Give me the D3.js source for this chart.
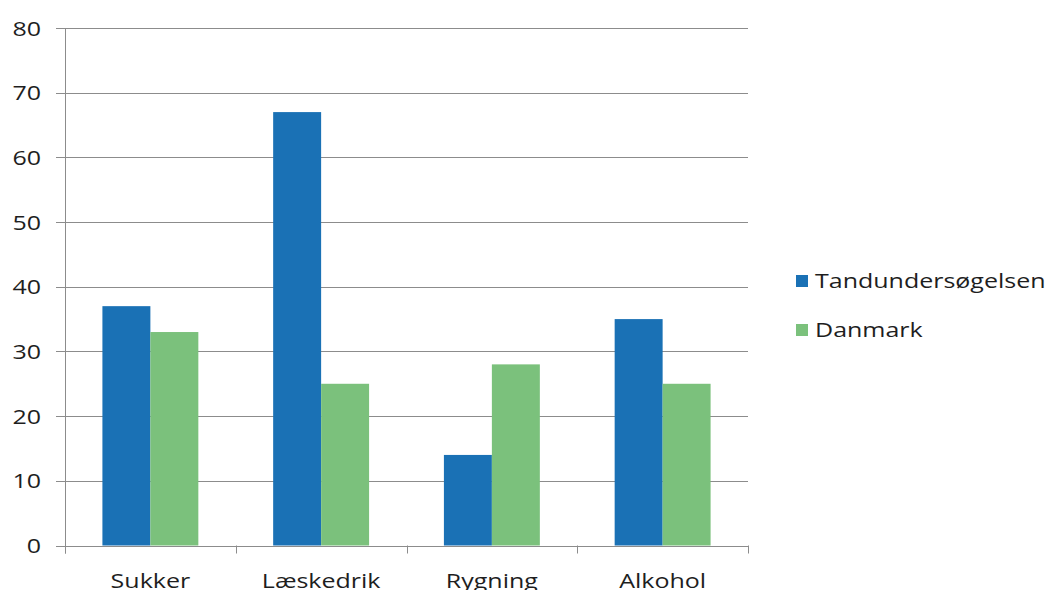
<!DOCTYPE html>
<html>
<head>
<meta charset="utf-8">
<script src="https://cdn.jsdelivr.net/npm/d3@7"></script>
<style>
  html, body { margin: 0; padding: 0; background: #fff; }
  svg { display: block; }
  text { font-family: "Open Sans", "Liberation Sans", sans-serif; fill: #1e1e1e; }
</style>
</head>
<body>
<svg id="chart" width="1048" height="590"></svg>
<script>
// Chart data
const categories = ["Sukker", "Læskedrik", "Rygning", "Alkohol"];
const seriesNames = ["Tandundersøgelsen", "Danmark"];
const tandundersoegelsen = [37, 67, 14, 35];
const danmark = [33, 25, 28, 25];
const yTicks = [0, 10, 20, 30, 40, 50, 60, 70, 80];
const colors = ["#1a71b5", "#7bc17c"];

const series = [tandundersoegelsen, danmark];

const svg = d3.select("#chart");
const margin = { left: 65, right: 300, top: 28, bottom: 44.5 };
const width = 1048, height = 590;
const x0 = margin.left, x1 = width - margin.right;   // 65 .. 748
const yTop = margin.top, yBottom = height - margin.bottom; // 28 .. 545.5

const x = d3.scaleBand().domain(categories).range([x0, x1]).paddingInner(0).paddingOuter(0);
const inner = d3.scaleBand().domain(seriesNames).range([0, x.bandwidth()]).paddingInner(0).paddingOuter(0.78);
const y = d3.scaleLinear().domain([0, 80]).range([yBottom, yTop]);

const stretch = 1.25; // wide letterforms
const gridColor = "#8c8c8c";

// Horizontal gridlines
svg.append("g")
  .selectAll("line")
  .data(yTicks)
  .join("line")
  .attr("x1", x0 - 9)
  .attr("x2", x1)
  .attr("y1", d => Math.round(y(d)) + 0.5)
  .attr("y2", d => Math.round(y(d)) + 0.5)
  .attr("stroke", gridColor)
  .attr("stroke-width", 1);

// Bars
const groups = svg.append("g")
  .selectAll("g")
  .data(categories)
  .join("g")
  .attr("transform", d => `translate(${x(d)},0)`);

groups.selectAll("rect")
  .data((c, i) => seriesNames.map((s, j) => ({ s, v: series[j][i], j })))
  .join("rect")
  .attr("x", d => inner(d.s))
  .attr("width", inner.bandwidth())
  .attr("y", d => y(d.v))
  .attr("height", d => y(0) - y(d.v))
  .attr("fill", d => colors[d.j]);

// Axes lines
svg.append("line")
  .attr("x1", x0 + 0.5).attr("x2", x0 + 0.5)
  .attr("y1", yTop).attr("y2", yBottom + 8)
  .attr("stroke", gridColor);
svg.append("line")
  .attr("x1", x0).attr("x2", x1)
  .attr("y1", Math.round(y(0)) + 0.5).attr("y2", Math.round(y(0)) + 0.5)
  .attr("stroke", gridColor);

// Category tick marks at band boundaries
const boundaries = categories.map(c => x(c)).concat([x1]);
svg.append("g")
  .selectAll("line")
  .data(boundaries)
  .join("line")
  .attr("x1", d => Math.round(d) + 0.5)
  .attr("x2", d => Math.round(d) + 0.5)
  .attr("y1", yBottom)
  .attr("y2", yBottom + 8)
  .attr("stroke", gridColor);

// Y tick labels
svg.append("g")
  .selectAll("g")
  .data(yTicks)
  .join("g")
  .attr("transform", d => `translate(41,${y(d) + 7.5}) scale(${stretch},1)`)
  .append("text")
  .attr("text-anchor", "end")
  .attr("font-size", 20)
  .text(d => d);

// X category labels
svg.append("g")
  .selectAll("g")
  .data(categories)
  .join("g")
  .attr("transform", d => `translate(${x(d) + x.bandwidth() / 2},588) scale(${stretch},1)`)
  .append("text")
  .attr("text-anchor", "middle")
  .attr("font-size", 20)
  .text(d => d);

// Legend
const legend = svg.append("g")
  .selectAll("g")
  .data(seriesNames)
  .join("g")
  .attr("transform", (d, i) => `translate(796,${275 + i * 49})`);

legend.append("rect")
  .attr("width", 12)
  .attr("height", 12)
  .attr("fill", (d, i) => colors[i]);

legend.append("g")
  .attr("transform", `translate(19,13) scale(${stretch},1)`)
  .append("text")
  .attr("font-size", 20)
  .text(d => d);
</script>
</body>
</html>
